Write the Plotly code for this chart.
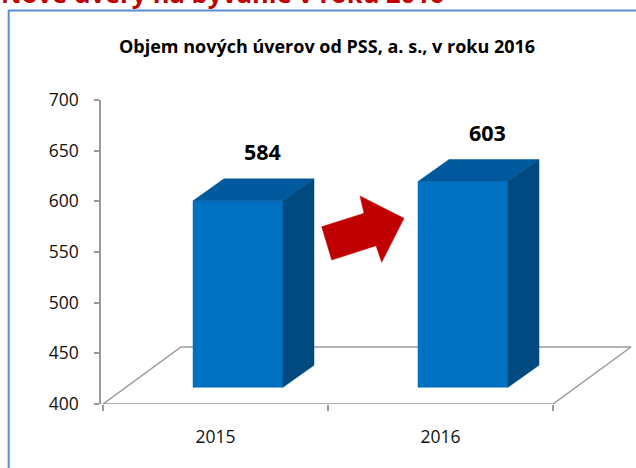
import plotly.graph_objects as go

# ---- data ----
categories = ["2015", "2016"]
values = [584, 603]
y_ticks = [400, 450, 500, 550, 600, 650, 700]
chart_title = "Objem nových úverov od PSS, a. s., v roku 2016"
page_heading = "Nové úvery na bývanie v roku 2016"

# ---- layout geometry (pixels) ----
W, H = 636, 468
PL, PR, PT, PB = 101, 632, 100, 404
def px2x(px):
    return (px - PL) / (PR - PL)
def px2y(py):
    return (PB - py) / (PB - PT)

X_RANGE = [-0.5 - 2 / 225, -0.5 + 529 / 225]
Y_RANGE = [400, 700]
Y2_RANGE = [383.5, 683.5]          # 3D projection scale for the bars
PX_PER_Y = (PB - PT) / 300.0

# 3D styling
FLOOR_DX, FLOOR_DY = 78 / 225, 57 / PX_PER_Y
BAR_W, BAR_OFF = 0.4, -0.1
BAR_DX, BAR_DY = 31 / 225, 22 / PX_PER_Y
BAR_BASE = 400
C_FRONT, C_TOP, C_SIDE = "#0070C0", "#00599C", "#004A80"
GRID = "#9a9a9a"
FONT = "Open Sans"

fig = go.Figure()

# floor
x0f, x1f = -0.5, len(categories) - 0.5
fig.add_trace(go.Scatter(
    x=[x0f, x1f, x1f + FLOOR_DX, x0f + FLOOR_DX, x0f],
    y=[Y_RANGE[0], Y_RANGE[0], Y_RANGE[0] + FLOOR_DY, Y_RANGE[0] + FLOOR_DY, Y_RANGE[0]],
    mode="lines", line=dict(color=GRID, width=1.5), hoverinfo="skip"))

# 3D bars
for i, v in enumerate(values):
    a = i + BAR_OFF
    b = a + BAR_W
    faces = [
        ([a, b, b, a, a], [BAR_BASE, BAR_BASE, v, v, BAR_BASE], C_FRONT),
        ([a, b, b + BAR_DX, a + BAR_DX, a], [v, v, v + BAR_DY, v + BAR_DY, v], C_TOP),
        ([b, b + BAR_DX, b + BAR_DX, b, b],
         [BAR_BASE, BAR_BASE + BAR_DY, v + BAR_DY, v, BAR_BASE], C_SIDE),
    ]
    for fx, fy, col in faces:
        fig.add_trace(go.Scatter(x=fx, y=fy, yaxis="y2", mode="lines",
                                 fill="toself", fillcolor=col,
                                 line=dict(color=col, width=0.5), hoverinfo="skip"))
    fig.add_annotation(x=a + BAR_W / 2 + 0.11, y=v, xref="x", yref="y2",
                       text="<b>%d</b>" % v, showarrow=False, yanchor="middle",
                       yshift=49, font=dict(family=FONT, size=21.5, color="#000000"))

# decorative arrow (pixel outline)
arrow_px = [(321.7, 226.7), (364, 213.3), (360, 196), (404, 218.3),
            (381.7, 262.3), (376, 245.7), (331.7, 260)]
path = "M " + " L ".join("%.4f,%.4f" % (px2x(x), px2y(y)) for x, y in arrow_px) + " Z"
fig.add_shape(type="path", path=path, xref="paper", yref="paper",
              fillcolor="#C00000", line=dict(color="#C00000", width=0.5))

# outer box
fig.add_shape(type="rect", xref="paper", yref="paper",
              x0=px2x(8.7), y0=px2y(10.5), x1=px2x(700), y1=px2y(520),
              line=dict(color="#5B8ED1", width=2), fillcolor="rgba(0,0,0,0)")

# chart title
fig.add_annotation(x=px2x(327), y=px2y(46), xref="paper", yref="paper",
                   text="<b>%s</b>" % chart_title, showarrow=False,
                   xanchor="center", yanchor="middle",
                   font=dict(family=FONT, size=18, color="#000000"))
# page heading (cut off at the top, as in the source)
fig.add_annotation(x=px2x(-1), y=px2y(12), xref="paper", yref="paper",
                   text="<b>%s</b>" % page_heading, showarrow=False,
                   xanchor="left", yanchor="bottom",
                   font=dict(family=FONT, size=25.5, color="#C00000"))

fig.update_layout(
    width=W, height=H,
    margin=dict(l=PL, r=W - PR, t=PT, b=H - PB, pad=0),
    paper_bgcolor="white", plot_bgcolor="white",
    showlegend=False,
    xaxis=dict(range=X_RANGE, showline=False, showgrid=False, zeroline=False,
               tickmode="array", tickvals=list(range(len(categories))),
               ticktext=categories, ticks="", ticklabelstandoff=20,
               tickfont=dict(family=FONT, size=17.5, color="#111111"),
               minor=dict(tickmode="array", tickvals=[-0.5, 0.5, 1.5],
                          ticks="outside", ticklen=6, tickcolor=GRID, tickwidth=1.5,
                          showgrid=False)),
    yaxis=dict(range=Y_RANGE, tickmode="array", tickvals=y_ticks,
               showline=True, linecolor=GRID, linewidth=1.5,
               ticks="outside", ticklen=5, tickcolor=GRID, tickwidth=1.5,
               showgrid=False, zeroline=False, ticklabelstandoff=12,
               tickfont=dict(family=FONT, size=17.5, color="#111111")),
    yaxis2=dict(range=Y2_RANGE, overlaying="y", visible=False),
)

fig.write_html("out.html")
